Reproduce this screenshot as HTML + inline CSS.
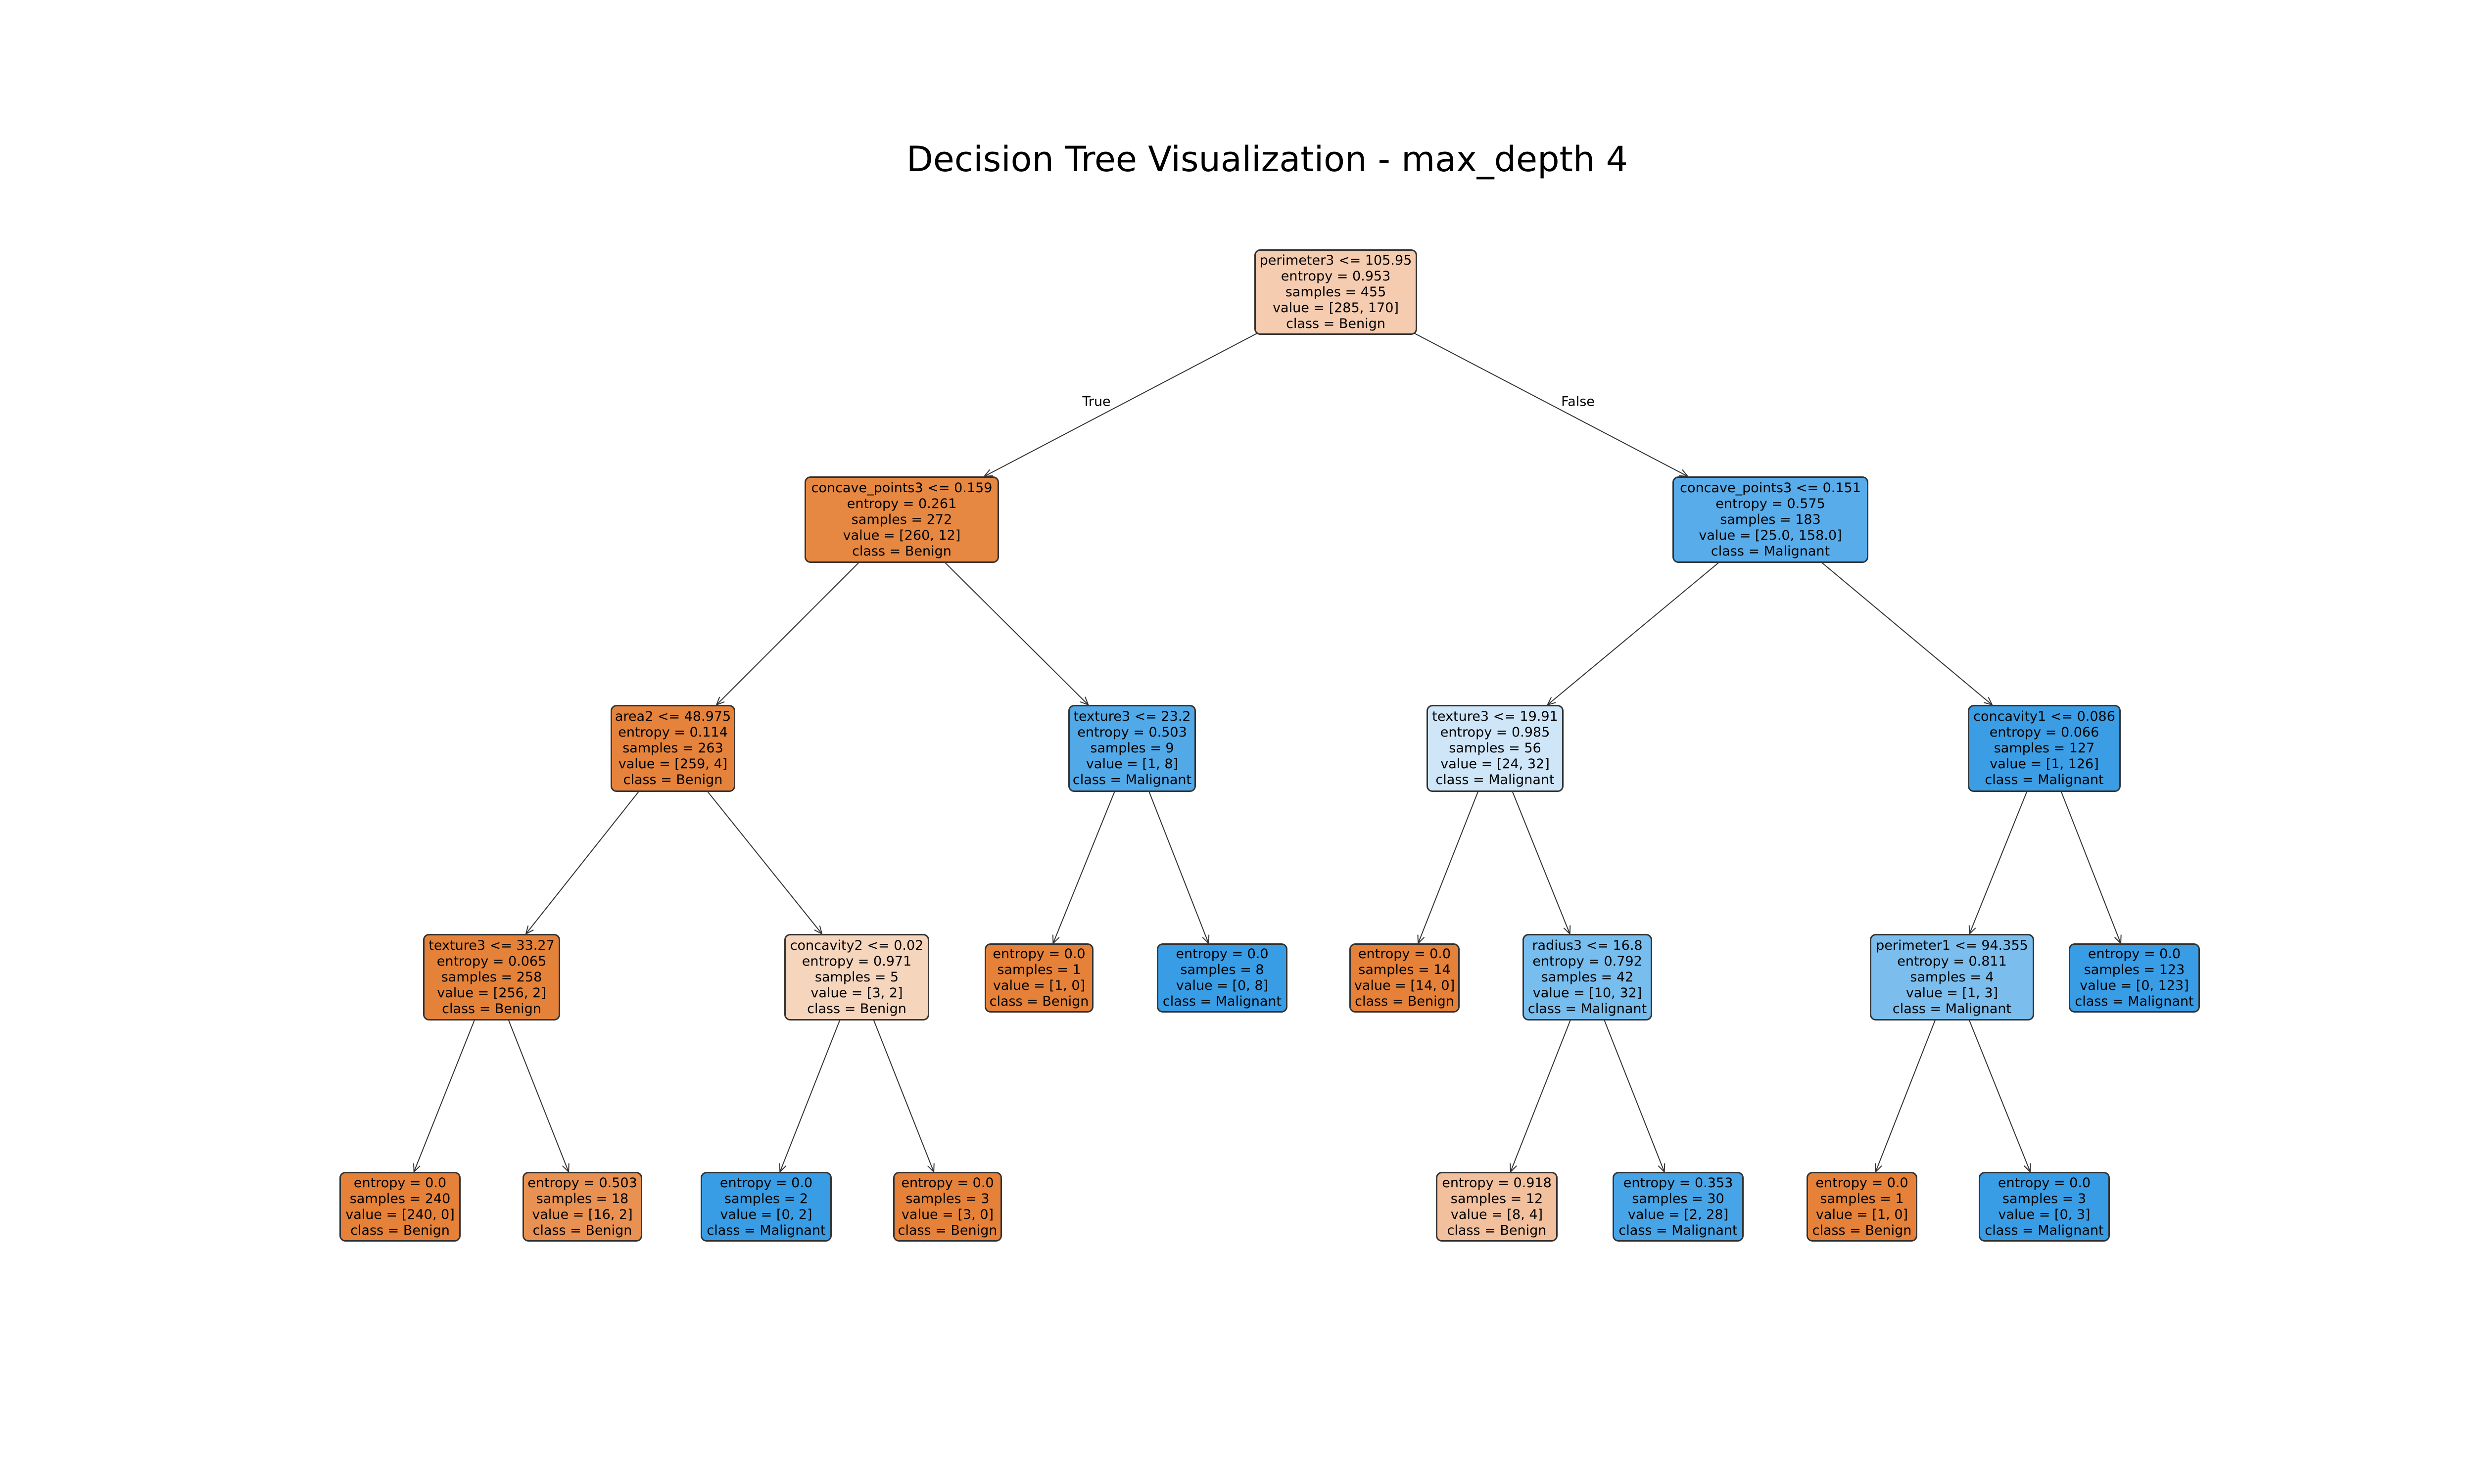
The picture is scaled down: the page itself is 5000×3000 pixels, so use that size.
<!DOCTYPE html>
<html><head><meta charset="utf-8"><style>
html,body{margin:0;padding:0;background:#fff}
#c{position:relative;width:5000px;height:3000px;overflow:hidden;font-family:"DejaVu Sans","Liberation Sans",sans-serif;color:#000}
.n{position:absolute;box-sizing:border-box;border:3px solid #333;border-radius:12px;display:flex;align-items:center;justify-content:center;text-align:center;font-size:27px;line-height:32px;white-space:nowrap}
.t{position:absolute;font-size:27px;transform:translate(-50%,-50%);white-space:nowrap}
#title{position:absolute;left:2561px;top:322px;transform:translate(-50%,-50%);font-size:70px;white-space:nowrap}
svg{position:absolute;left:0;top:0}
</style></head><body><div id="c">
<div id="title">Decision Tree Visualization - max_depth 4</div>
<svg id="s" width="5000" height="3000"></svg>
<div class="t" style="left:2216px;top:812px">True</div>
<div class="t" style="left:3189px;top:812px">False</div>
</div>
<script>
var N=[
[2535,2864,504,677,"perimeter3 <= 105.95|entropy = 0.953|samples = 455|value = [285, 170]|class = Benign","#f5ccaf",-1],
[1626,2019,963,1138,"concave_points3 <= 0.159|entropy = 0.261|samples = 272|value = [260, 12]|class = Benign","#e68742",0],
[3380,3776,963,1138,"concave_points3 <= 0.151|entropy = 0.575|samples = 183|value = [25.0, 158.0]|class = Malignant","#58ace9",0],
[1234,1486,1425,1601,"area2 <= 48.975|entropy = 0.114|samples = 263|value = [259, 4]|class = Benign","#e5833c",1],
[2159,2417,1425,1601,"texture3 <= 23.2|entropy = 0.503|samples = 9|value = [1, 8]|class = Malignant","#52a9e8",1],
[2883,3160,1425,1601,"texture3 <= 19.91|entropy = 0.985|samples = 56|value = [24, 32]|class = Malignant","#cee6f8",2],
[3977,4286,1425,1601,"concavity1 <= 0.086|entropy = 0.066|samples = 127|value = [1, 126]|class = Malignant","#3b9ee5",2],
[855,1132,1888,2063,"texture3 <= 33.27|entropy = 0.065|samples = 258|value = [256, 2]|class = Benign","#e5823a",3],
[1585,1878,1888,2063,"concavity2 <= 0.02|entropy = 0.971|samples = 5|value = [3, 2]|class = Benign","#f6d5bd",3],
[1990,2210,1907,2047,"entropy = 0.0|samples = 1|value = [1, 0]|class = Benign","#e58139",4],
[2338,2602,1907,2047,"entropy = 0.0|samples = 8|value = [0, 8]|class = Malignant","#399de5",4],
[2727,2950,1907,2047,"entropy = 0.0|samples = 14|value = [14, 0]|class = Benign","#e58139",5],
[3077,3339,1888,2063,"radius3 <= 16.8|entropy = 0.792|samples = 42|value = [10, 32]|class = Malignant","#77bded",5],
[3779,4111,1888,2063,"perimeter1 <= 94.355|entropy = 0.811|samples = 4|value = [1, 3]|class = Malignant","#7bbeee",6],
[4181,4446,1907,2047,"entropy = 0.0|samples = 123|value = [0, 123]|class = Malignant","#399de5",6],
[686,931,2369,2510,"entropy = 0.0|samples = 240|value = [240, 0]|class = Benign","#e58139",7],
[1056,1298,2369,2510,"entropy = 0.503|samples = 18|value = [16, 2]|class = Benign","#e89152",7],
[1416,1681,2369,2510,"entropy = 0.0|samples = 2|value = [0, 2]|class = Malignant","#399de5",8],
[1805,2025,2369,2510,"entropy = 0.0|samples = 3|value = [3, 0]|class = Benign","#e58139",8],
[2902,3148,2369,2510,"entropy = 0.918|samples = 12|value = [8, 4]|class = Benign","#f2c09c",12],
[3259,3524,2369,2510,"entropy = 0.353|samples = 30|value = [2, 28]|class = Malignant","#47a4e7",12],
[3651,3875,2369,2510,"entropy = 0.0|samples = 1|value = [1, 0]|class = Benign","#e58139",13],
[3999,4264,2369,2510,"entropy = 0.0|samples = 3|value = [0, 3]|class = Malignant","#399de5",13]
];
var c=document.getElementById('c'),s=document.getElementById('s'),svg='';
N.forEach(function(n){
 var p=n[6];if(p<0)return;var P=N[p];
 var px=(P[0]+P[1])/2,py=(P[2]+P[3])/2,cx=(n[0]+n[1])/2,cy=(n[2]+n[3])/2;
 var t=(n[2]-py)/(cy-py),ex=px+(cx-px)*t,ey=n[2];
 svg+='<line x1="'+px+'" y1="'+py+'" x2="'+ex+'" y2="'+ey+'" stroke="#333" stroke-width="2"/>';
 var dx=ex-px,dy=ey-py,L=Math.sqrt(dx*dx+dy*dy);dx/=L;dy/=L;
 var h=16,w=7;
 var bx=ex-dx*h,by=ey-dy*h;
 svg+='<polyline points="'+(bx-dy*w)+','+(by+dx*w)+' '+ex+','+ey+' '+(bx+dy*w)+','+(by-dx*w)+'" fill="none" stroke="#333" stroke-width="2"/>';
});
s.innerHTML=svg;
N.forEach(function(n){
 var d=document.createElement('div');d.className='n';
 d.style.left=n[0]+'px';d.style.top=n[2]+'px';d.style.width=(n[1]-n[0])+'px';d.style.height=(n[3]-n[2])+'px';d.style.background=n[5];
 d.innerHTML='<div>'+n[4].split('|').map(function(x){return x.replace(/</g,'&lt;')}).join('<br>')+'</div>';
 c.appendChild(d);
});
</script>
</body></html>
